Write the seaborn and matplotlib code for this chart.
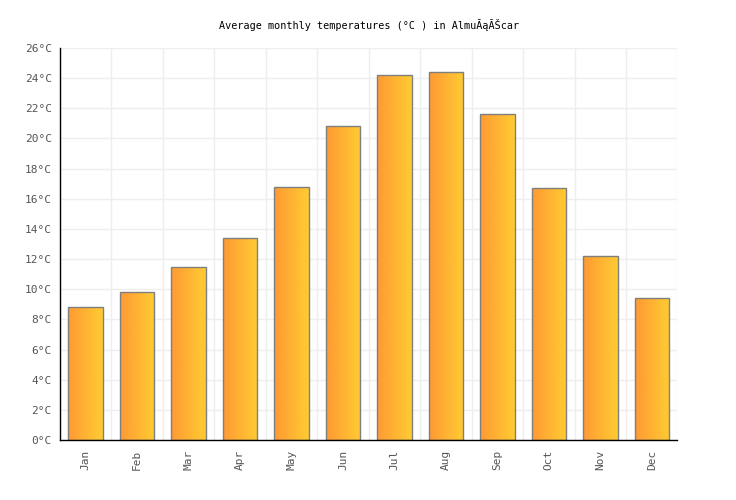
import matplotlib.pyplot as plt
import numpy as np
import pandas as pd
import seaborn as sns
from matplotlib.colors import LinearSegmentedColormap

# Valores
months = ['Jan', 'Feb', 'Mar', 'Apr', 'May', 'Jun',
          'Jul', 'Aug', 'Sep', 'Oct', 'Nov', 'Dec']
temps = [8.8, 9.8, 11.5, 13.4, 16.8, 20.8, 24.2, 24.4, 21.6, 16.7, 12.2, 9.4]
y_ticks = list(range(0, 27, 2))
title = 'Average monthly temperatures (°C ) in AlmuĂąĂŠcar'

sns.set_style('white')
plt.rcParams['font.family'] = ['DejaVu Sans Mono', 'DejaVu Sans']

df = pd.DataFrame({'month': months, 'temp': temps})

fig = plt.figure(figsize=(7.36, 5), dpi=100)
ax = fig.add_axes([0.0815, 0.12, 0.8390, 0.784])

sns.barplot(data=df, x='month', y='temp', ax=ax, width=0.67,
            color='#ffb233', edgecolor='#7f7f7f', linewidth=1, zorder=3)

# Preenchimento em degradê (laranja -> amarelo) dentro de cada barra
grad = LinearSegmentedColormap.from_list('bar', ['#ff9933', '#ffcc33'])
ramp = np.linspace(0, 1, 256).reshape(1, -1)
for p in ax.patches:
    x0, y0 = p.get_x(), p.get_y()
    w, h = p.get_width(), p.get_height()
    im = ax.imshow(ramp, cmap=grad, aspect='auto', interpolation='bilinear',
                   extent=(x0, x0 + w, y0, y0 + h), zorder=2.9)
    im.set_clip_path(p)
    p.set_facecolor('none')

ax.set_xlim(-0.5, 11.5)
ax.set_ylim(0, 26)
ax.set_yticks(y_ticks)
ax.set_yticklabels([f'{v}°C' for v in y_ticks])
ax.set_xticks(np.arange(-0.5, 12, 1), minor=True)
ax.tick_params(axis='x', which='major', rotation=90, length=0, labelsize=8,
               labelcolor='#555555', pad=7)
ax.tick_params(axis='y', length=0, labelsize=8, labelcolor='#555555', pad=6)
ax.tick_params(which='minor', length=0)

ax.grid(axis='y', which='major', color='#eeeeee', linewidth=1, zorder=0)
ax.grid(axis='x', which='minor', color='#eeeeee', linewidth=1, zorder=0)
ax.grid(axis='x', which='major', visible=False)
ax.set_axisbelow(True)

for side in ['top', 'right']:
    ax.spines[side].set_visible(False)
for side in ['left', 'bottom']:
    ax.spines[side].set_color('black')
    ax.spines[side].set_linewidth(1)
    ax.spines[side].set_zorder(4)

ax.set_xlabel('')
ax.set_ylabel('')
ax.set_title(title, fontsize=7.3, color='black', pad=14)

fig.savefig('out.png', dpi=100)
